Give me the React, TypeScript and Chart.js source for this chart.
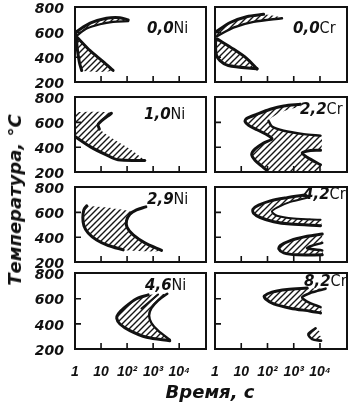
import { useEffect, useRef } from 'react';
import { Chart, registerables } from 'chart.js';

Chart.register(...registerables);

type Pt = [number, number]; // [time, s ; temperature, °C]

// ---- axes ----
const xTicks = [1, 10, 100, 1000, 10000];
const xTickLabels = ['1', '10', '10²', '10³', '10⁴'];
const yTicks = [200, 400, 600, 800];
const innerXTicks = [10, 100, 1000, 10000];
const innerYTicks = [400, 600];
const X_MIN = 1;
const X_MAX = 107000;
const Y_MIN = 200;
const Y_MAX = 805;

// ---- 0,0 Ni ----
const ni00UpperA: Pt[] = [[1.1, 605], [3.8, 674], [16, 714], [53, 719], [110, 700]];
const ni00UpperB: Pt[] = [[1.16, 573], [2.8, 631], [9.1, 666], [29, 685], [110, 690]];
const ni00LowerLeft: Pt[] = [[1.1, 586], [1.23, 466], [1.47, 359], [1.8, 293]];
const ni00LowerRight: Pt[] = [[1.23, 559], [3.8, 453], [12, 365], [29, 293]];

// ---- 0,0 Cr ----
const cr00UpperA: Pt[] = [[1, 600], [3.8, 680], [16, 727], [71, 746]];
const cr00UpperB: Pt[] = [[1.16, 567], [5, 639], [29.5, 685], [357, 714]];
const cr00LowerLeft: Pt[] = [[1.05, 546], [1.1, 426], [1.55, 373], [3.2, 333], [40, 306]];
const cr00LowerRight: Pt[] = [[1.23, 546], [5, 466], [16, 391], [40, 306]];

// ---- 1,0 Ni ----
const ni10Start: Pt[] = [[1, 486], [3.8, 405], [16, 338], [45, 298], [480, 293]];
const ni10End: Pt[] = [[25, 674], [7.8, 586], [8.6, 546], [29.5, 466], [128, 386], [480, 296]];
const ni10Top: Pt[] = [[1, 685]];

// ---- 2,2 Cr ----
const cr22Start: Pt[] = [[1800, 746], [415, 733], [128, 706], [40, 666], [16, 631], [14, 607], [19, 578], [40, 541], [110, 493], [148, 466], [71, 434], [34, 386], [25, 341], [34, 293], [61, 247], [95, 213]];
const cr22End: Pt[] = [[1800, 727], [560, 701], [200, 658], [110, 613], [148, 567], [415, 533], [2400, 506], [10500, 493]];
const cr22End2: Pt[] = [[10500, 375], [4350, 373], [2100, 354], [3250, 319], [10500, 258]];
const cr22Bottom: Pt[] = [[10500, 213]];

// ---- 2,9 Ni ----
const ni29Start: Pt[] = [[2.8, 653], [2.2, 621], [2.0, 559], [2.2, 493], [3.2, 434], [6.8, 378], [19, 333], [71, 298]];
const ni29End: Pt[] = [[525, 645], [230, 621], [128, 586], [95, 533], [100, 479], [172, 418], [480, 354], [2100, 293]];
const ni29Edge: Pt[] = [[400, 286], [2100, 293], [480, 354], [172, 418], [100, 479], [95, 533], [128, 586], [148, 605], [22, 637]];

// ---- 4,2 Cr ----
const cr42Start: Pt[] = [[2800, 741], [560, 719], [128, 693], [46, 658], [28, 626], [29.5, 594], [53, 559], [172, 525], [745, 506], [10500, 493]];
const cr42End: Pt[] = [[3250, 719], [745, 685], [230, 639], [148, 607], [230, 573], [1000, 551], [10500, 541]];
const cr42LowStart: Pt[] = [[12200, 426], [3250, 407], [745, 373], [310, 333], [270, 306], [415, 274], [1350, 258], [12200, 258]];
const cr42LowEnd: Pt[] = [[12200, 354], [4350, 327], [3250, 311], [12200, 293]];

// ---- 4,6 Ni ----
const ni46Start: Pt[] = [[645, 631], [230, 600], [83, 533], [46, 479], [40, 445], [53, 399], [128, 346], [560, 293], [4350, 266]];
const ni46End: Pt[] = [[3500, 640], [1550, 586], [860, 525], [700, 466], [860, 407], [1550, 346], [4350, 274]];
const ni46Mid: Pt[] = [[1550, 634], [357, 522]];

// ---- 8,2 Cr ----
const cr82Start: Pt[] = [[3250, 685], [560, 674], [148, 653], [75, 621], [83, 600], [172, 559], [745, 525], [4350, 501], [10500, 487]];
const cr82End: Pt[] = [[16300, 680], [4350, 647], [2100, 613], [3250, 578], [10500, 533]];
const cr82Low: Pt[] = [[6800, 365], [3600, 319], [5000, 279], [11000, 266], [11000, 301], [7400, 311], [10000, 338]];
const cr82LowLine: Pt[] = [[6800, 365], [3600, 319], [5000, 279], [11000, 266]];

const rev = (a: Pt[]) => a.slice().reverse();

interface LineDef { pts: Pt[]; w: number }
interface PanelDef { amount: string; element: string; fills: Pt[][]; lines: LineDef[]; lx: number; ly: number }

const panels: PanelDef[][] = [
  [
    { amount: '0,0', element: 'Ni', lx: 147, ly: 20,
      fills: [[...ni00UpperA, ...rev(ni00UpperB)], [...ni00LowerLeft, ...rev(ni00LowerRight)]],
      lines: [{ pts: ni00UpperA, w: 3 }, { pts: ni00UpperB, w: 2.2 }, { pts: ni00LowerLeft, w: 3 }, { pts: ni00LowerRight, w: 3 }] },
    { amount: '0,0', element: 'Cr', lx: 293, ly: 20,
      fills: [[...cr00UpperA, ...rev(cr00UpperB)], [...cr00LowerLeft, ...rev(cr00LowerRight)]],
      lines: [{ pts: cr00UpperA, w: 3 }, { pts: cr00UpperB, w: 2.4 }, { pts: cr00LowerLeft, w: 3 }, { pts: cr00LowerRight, w: 3 }] },
  ],
  [
    { amount: '1,0', element: 'Ni', lx: 144, ly: 106,
      fills: [[...ni10Top, ...ni10End, ...rev(ni10Start)]],
      lines: [{ pts: ni10Start, w: 3 }, { pts: ni10End.slice(0, 3), w: 3 }] },
    { amount: '2,2', element: 'Cr', lx: 300, ly: 101,
      fills: [[...cr22Start, ...cr22Bottom, ...rev(cr22End2), ...rev(cr22End)]],
      lines: [{ pts: cr22Start, w: 3 }, { pts: cr22End.slice(3), w: 2.4 }, { pts: cr22End2, w: 3 }] },
  ],
  [
    { amount: '2,9', element: 'Ni', lx: 147, ly: 191,
      fills: [[...ni29Start, ...ni29Edge]],
      lines: [{ pts: ni29Start, w: 3 }, { pts: ni29End, w: 3 }] },
    { amount: '4,2', element: 'Cr', lx: 303, ly: 186,
      fills: [[...cr42Start, ...rev(cr42End)], [...cr42LowStart, ...rev(cr42LowEnd)]],
      lines: [{ pts: cr42Start, w: 3 }, { pts: cr42End, w: 2 }, { pts: cr42LowStart, w: 3 }, { pts: cr42LowEnd, w: 2.5 }] },
  ],
  [
    { amount: '4,6', element: 'Ni', lx: 145, ly: 277,
      fills: [[...ni46Start, ...rev(ni46End)]],
      lines: [{ pts: ni46Start, w: 3 }, { pts: ni46End, w: 2.4 }, { pts: ni46Mid, w: 2 }] },
    { amount: '8,2', element: 'Cr', lx: 304, ly: 273,
      fills: [[...cr82Start, ...rev(cr82End)], cr82Low],
      lines: [{ pts: cr82Start, w: 3 }, { pts: cr82End, w: 2.6 }, { pts: cr82LowLine, w: 2.6 }] },
  ],
];

// ---- layout (page px) ----
const COL_L = [75, 215];
const COL_W = [131, 132];
const ROW_T = [7, 97, 187, 273];
const ROW_H = [75, 75, 75, 76];

function makeHatch(): CanvasPattern | string {
  const s = 6;
  const c = document.createElement('canvas');
  c.width = s;
  c.height = s;
  const g = c.getContext('2d');
  if (!g) return '#999';
  g.strokeStyle = '#161616';
  g.lineWidth = 1.4;
  g.beginPath();
  g.moveTo(0, s); g.lineTo(s, 0);
  g.moveTo(-1, 1); g.lineTo(1, -1);
  g.moveTo(s - 1, s + 1); g.lineTo(s + 1, s - 1);
  g.stroke();
  return g.createPattern(c, 'repeat') || '#999';
}

const framePlugin = {
  id: 'frame',
  afterDraw(chart: any) {
    const { ctx, chartArea: a, scales } = chart;
    ctx.save();
    ctx.strokeStyle = '#111';
    ctx.lineWidth = 2;
    ctx.strokeRect(a.left, a.top, a.right - a.left, a.bottom - a.top);
    ctx.lineWidth = 1.6;
    ctx.beginPath();
    innerXTicks.forEach((v) => {
      const x = scales.x.getPixelForValue(v);
      ctx.moveTo(x, a.bottom);
      ctx.lineTo(x, a.bottom - 6);
    });
    innerYTicks.forEach((v) => {
      const y = scales.y.getPixelForValue(v);
      ctx.moveTo(a.left, y);
      ctx.lineTo(a.left + 6, y);
    });
    ctx.stroke();
    ctx.restore();
  },
};

function Panel({ def, col, row }: { def: PanelDef; col: number; row: number }) {
  const ref = useRef<HTMLCanvasElement>(null);
  const bottom = row === 3;
  const left = col === 0;
  const PL = left ? 60 : 8;
  const PR = 8;
  const PT = 10;
  const PB = bottom ? 40 : 10;
  const W = COL_W[col] + PL + PR;
  const H = ROW_H[row] + PT + PB;

  useEffect(() => {
    const canvas = ref.current;
    if (!canvas) return;
    const hatch = makeHatch();
    const datasets: any[] = [
      ...def.fills.map((f) => ({
        data: f.map(([x, y]) => ({ x, y })),
        fill: 'shape',
        backgroundColor: hatch,
        borderColor: 'rgba(0,0,0,0)',
        borderWidth: 0,
        pointRadius: 0,
        tension: 0.3,
      })),
      ...def.lines.map((l) => ({
        data: l.pts.map(([x, y]) => ({ x, y })),
        fill: false,
        borderColor: '#111',
        borderWidth: l.w,
        pointRadius: 0,
        tension: 0.3,
        borderCapStyle: 'round',
        borderJoinStyle: 'round',
      })),
    ];
    const chart = new Chart(canvas, {
      type: 'line',
      data: { datasets },
      options: {
        animation: false,
        responsive: false,
        devicePixelRatio: 1,
        events: [],
        layout: { autoPadding: false, padding: { left: left ? 0 : PL, right: PR, top: PT, bottom: bottom ? 0 : PB } },
        plugins: { legend: { display: false }, tooltip: { enabled: false } },
        scales: {
          x: {
            type: 'logarithmic',
            min: X_MIN,
            max: X_MAX,
            display: bottom,
            grid: { display: false, drawTicks: true, tickLength: 15 },
            border: { display: false },
            afterBuildTicks: (s: any) => { s.ticks = xTicks.map((v) => ({ value: v })); },
            afterFit: (s: any) => { s.height = bottom ? PB : 0; },
            ticks: {
              autoSkip: false,
              maxRotation: 0,
              minRotation: 0,
              padding: 0,
              color: '#111',
              font: { family: 'Liberation Sans', size: 14, style: 'italic', weight: 'bold' },
              callback: (_v: any, i: number) => xTickLabels[i],
            },
          },
          y: {
            type: 'linear',
            min: Y_MIN,
            max: Y_MAX,
            display: left,
            grid: { display: false, drawTicks: true, tickLength: 11 },
            border: { display: false },
            afterBuildTicks: (s: any) => { s.ticks = yTicks.map((v) => ({ value: v })); },
            afterFit: (s: any) => { s.width = left ? PL : 0; },
            ticks: {
              autoSkip: false,
              padding: 0,
              labelOffset: 2,
              color: '#111',
              font: { family: 'DejaVu Sans', size: 14, style: 'italic', weight: 'bold' },
              callback: (v: any) => String(v),
            },
          },
        },
      } as any,
      plugins: [framePlugin],
    });
    return () => chart.destroy();
  }, []);

  return (
    <canvas
      ref={ref}
      width={W}
      height={H}
      style={{ position: 'absolute', left: COL_L[col] - PL, top: ROW_T[row] - PT, width: W, height: H }}
    />
  );
}

export default function App() {
  return (
    <div style={{ position: 'absolute', left: 0, top: 0, width: 355, height: 407, background: '#fff', overflow: 'hidden', fontFamily: 'DejaVu Sans', color: '#111' }}>
      {panels.map((rowDefs, r) =>
        rowDefs.map((def, c) => <Panel key={`${r}-${c}`} def={def} col={c} row={r} />)
      )}
      {panels.flat().map((def, i) => (
        <div key={`l${i}`} style={{ position: 'absolute', left: def.lx, top: def.ly, fontSize: 15, lineHeight: 1, whiteSpace: 'nowrap' }}>
          <span style={{ fontStyle: 'italic', fontWeight: 'bold' }}>{def.amount}</span>
          <span style={{ fontFamily: 'DejaVu Sans Condensed, DejaVu Sans', fontSize: 16 }}>{def.element}</span>
        </div>
      ))}
      <div style={{ position: 'absolute', left: 15, top: 200, transform: 'translate(-50%, -50%) rotate(-90deg)', whiteSpace: 'nowrap', fontStyle: 'italic', fontWeight: 'bold', fontSize: 18, lineHeight: 1 }}>
        Температура, °С
      </div>
      <div style={{ position: 'absolute', left: 210, top: 383, transform: 'translateX(-50%)', whiteSpace: 'nowrap', fontStyle: 'italic', fontWeight: 'bold', fontSize: 18, lineHeight: 1 }}>
        Время, с
      </div>
    </div>
  );
}
